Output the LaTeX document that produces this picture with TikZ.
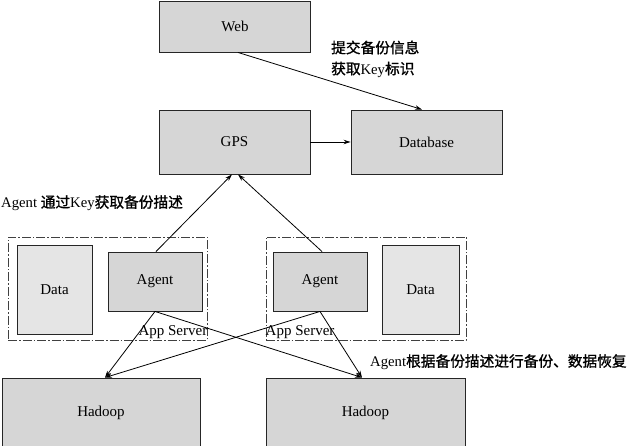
\documentclass[tikz,border=0pt]{standalone}
\usepackage{fontspec}
\setmainfont{Liberation Serif}
\newfontfamily\cjk[FakeBold=1.2]{Noto Sans CJK SC}
\usetikzlibrary{arrows.meta}
\tikzset{
  box/.style={draw=black!85, line width=0.9pt, fill=black!16, font=\fontsize{15}{17}\selectfont, inner sep=0pt},
  databox/.style={draw=black!85, line width=0.9pt, fill=black!10, font=\fontsize{15}{17}\selectfont, inner sep=0pt},
  server/.style={draw=black!75, line width=0.6pt, dash pattern=on 9pt off 2pt on 1.5pt off 2pt, inner sep=0pt},
  conn/.style={draw=black, line width=0.8pt, -{Stealth[length=7pt,width=4.5pt]}},
  lbl/.style={font=\fontsize{15}{17}\selectfont, inner sep=0pt},
  cjklbl/.style={font=\fontsize{14.7}{21}\selectfont, inner sep=0pt, align=left}
}
\begin{document}
\begin{tikzpicture}[x=1pt,y=-1pt]
\useasboundingbox (0,0) rectangle (640,446);
% top row
\node[box, minimum width=151pt, minimum height=51pt] (web) at (235,26.5) {Web};
\node[box, minimum width=151pt, minimum height=64pt] (gps) at (234.5,142) {GPS};
\node[box, minimum width=151pt, minimum height=64pt] (db) at (426.5,142) {Database};
% app servers
\node[server, minimum width=199pt, minimum height=103pt] (srvL) at (107.5,288.5) {};
\node[server, minimum width=200pt, minimum height=103pt] (srvR) at (366,288.5) {};
\node[databox, minimum width=75pt, minimum height=89pt] (dataL) at (54.5,289.5) {Data};
\node[box, minimum width=94pt, minimum height=59pt] (agentL) at (155,281.5) {Agent};
\node[box, minimum width=94pt, minimum height=59pt] (agentR) at (320,281.5) {Agent};
\node[databox, minimum width=77pt, minimum height=89pt] (dataR) at (420.5,289.5) {Data};
\node[lbl, anchor=south east] (asL) at (207.5,338.5) {App Server};
\node[lbl, anchor=south west] (asR) at (265.5,338.5) {App Server};
% hadoop
\node[box, minimum width=198pt, minimum height=70pt] (hadL) at (101,413) {Hadoop};
\node[box, minimum width=199pt, minimum height=70pt] (hadR) at (365.5,413) {Hadoop};
% labels
\node[cjklbl, anchor=west] (l1) at (331,59) {{\cjk 提交备份信息}\\{\cjk 获取}Key{\cjk 标识}};
\node[cjklbl, anchor=west] (l2) at (1,203) {Agent {\cjk 通过}Key{\cjk 获取备份描述}};
\node[cjklbl, anchor=west] (l3) at (370,362) {Agent{\cjk 根据备份描述进行备份、数据恢复}};
% connectors
\draw[conn] ([xshift=3pt]web.south) -- ([xshift=-4.5pt]db.north);
\draw[conn] (gps.east) -- (db.west);
\draw[conn] ([xshift=1pt]agentL.north) -- ([xshift=-2.5pt]gps.south);
\draw[conn] ([xshift=2pt]agentR.north) -- ([xshift=3.5pt]gps.south);
\draw[conn] (agentL.south) -- ([xshift=4pt]hadL.north);
\draw[conn] (agentL.south) -- ([xshift=-3.5pt]hadR.north);
\draw[conn] (agentR.south) -- ([xshift=4pt]hadL.north);
\draw[conn] (agentR.south) -- ([xshift=-3.5pt]hadR.north);
\end{tikzpicture}
\end{document}
